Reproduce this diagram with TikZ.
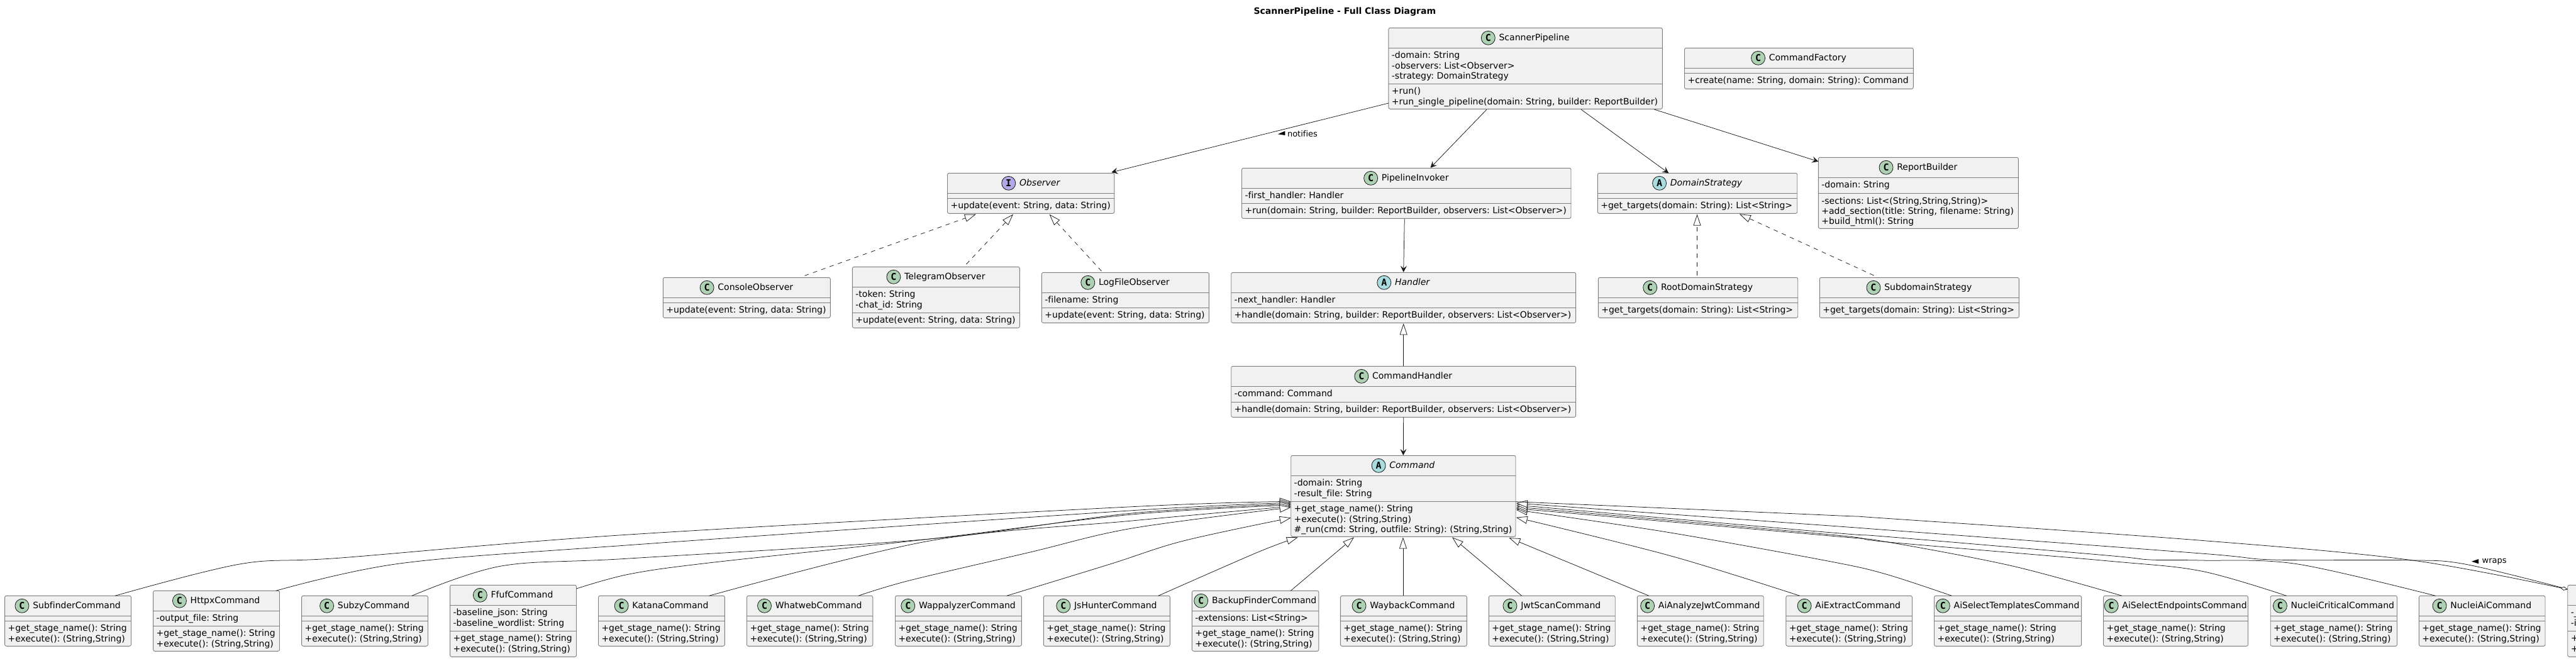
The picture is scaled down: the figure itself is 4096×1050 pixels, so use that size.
\documentclass[tikz,border=0pt]{standalone}
\usepackage{fontspec}
\setmainfont[Ligatures=NoCommon]{DejaVu Sans}
\newfontfamily\cfont{DejaVu Sans Mono}
\usetikzlibrary{arrows.meta,calc}
\definecolor{boxfill}{HTML}{F1F1F1}
\definecolor{boxline}{HTML}{7F7F7F}
\definecolor{ink}{HTML}{181818}
\definecolor{badgeC}{HTML}{ADD1B2}
\definecolor{badgeA}{HTML}{A9DCDF}
\definecolor{badgeI}{HTML}{B4A7E5}
\tikzset{
  classbox/.style={draw=boxline,fill=boxfill,line width=.9pt,rounded corners=2.5pt,inner sep=0pt,outer sep=0pt},
  sepline/.style={draw=boxline,line width=.9pt},
  cname/.style={inner sep=0pt,outer sep=0pt,text=black,font=\fontsize{14}{16}\selectfont\frenchspacing,text height=10.5pt,text depth=3pt},
  badge/.style={circle,draw=ink,line width=.8pt,minimum size=22pt,inner sep=0pt,outer sep=0pt,font=\fontsize{15}{16}\selectfont\cfont\bfseries,text=black},
  memb/.style={inner sep=0pt,outer sep=0pt,anchor=north west,align=left,text=black,font=\fontsize{14}{16.4}\selectfont\frenchspacing},
  lbl/.style={inner sep=0pt,outer sep=0pt,text=black,font=\fontsize{13}{15}\selectfont},
  conn/.style={draw=ink,line width=.75pt},
  extarrow/.style={conn,-{Triangle[length=18pt,width=12pt,fill=white]}},
  navarrow/.style={conn,-{Stealth[length=10pt,width=10pt,inset=4pt,fill=ink]}},
  realarrow/.style={extarrow,dash pattern=on 7pt off 7pt},
  wraparrow/.style={conn,-{Diamond[length=12pt,width=6pt,fill=white]}},
  curve/.style={smooth,tension=.55},
  ltri/.style={fill=black,draw=none}
}
\newcommand{\umlclass}[9]{%
  \pgfmathsetmacro\bw{#3-#2}\pgfmathsetmacro\bh{#7-#4}%
  \node[classbox,minimum width=\bw pt,minimum height=\bh pt,anchor=north west] (#1) at (#2,#4) {};
  \draw[sepline] (#2,#5) -- (#3,#5);
  \draw[sepline] (#2,#6) -- (#3,#6);
  \coordinate (#1H) at (#2,#5);
  \coordinate (#1S) at (#2,#6);
  \node[cname] (#1n) at ($(#1.north)+(14,16)$) {#9};
  \node[badge,fill=badge#8] (#1c) at ($(#1n.west)+(-17.3,0)$) {#8};
}
\newcommand{\fieldsof}[2]{\node[memb] (#1f) at ($(#1H)+(5,5.6)$) {\rule{0pt}{11pt}#2};}
\newcommand{\methodsof}[2]{\node[memb] (#1m) at ($(#1S)+(5,5.6)$) {\rule{0pt}{11pt}#2};}
\newcommand{\plainchild}[4]{%
  \umlclass{#1}{#2}{#3}{947.3}{979.3}{987.3}{1027.3}{C}{#4}
  \methodsof{#1}{+get\_stage\_name(): String\\+execute(): (String,String)}
}
\begin{document}
\begin{tikzpicture}[x=1pt,y=-1pt]
\useasboundingbox (0,0) rectangle (4096,1050);
\fill[white] (0,0) rectangle (4096,1050);
\clip (0,0) rectangle (4096,1050);

\node[inner sep=0pt,text=black,font=\fontsize{14}{16}\selectfont\bfseries] (title) at (2138.3,18.5) {ScannerPipeline - Full Class Diagram};

% boxes
\umlclass{scan}{2207.9}{2643.3}{44.3}{76.3}{133.3}{173.3}{C}{ScannerPipeline}
\fieldsof{scan}{-domain: String\\-observers: List<Observer>\\-strategy: DomainStrategy}
\methodsof{scan}{+run()\\+run\_single\_pipeline(domain: String, builder: ReportBuilder)}

\umlclass{factory}{2678.5}{3042.3}{76.3}{108.3}{116.3}{141.3}{C}{CommandFactory}
\methodsof{factory}{+create(name: String, domain: String): Command}

\umlclass{obs}{1506.5}{1771.8}{275.3}{307.3}{315.3}{339.3}{I}{\itshape Observer}
\methodsof{obs}{+update(event: String, data: String)}

\umlclass{invoker}{1974.5}{2498}{267.3}{299.3}{323.3}{347.3}{C}{PipelineInvoker}
\fieldsof{invoker}{-first\_handler: Handler}
\methodsof{invoker}{+run(domain: String, builder: ReportBuilder, observers: List<Observer>)}

\umlclass{domain}{2540.3}{2857.7}{275.3}{307.3}{315.3}{339.3}{A}{\itshape DomainStrategy}
\methodsof{domain}{+get\_targets(domain: String): List<String>}

\umlclass{report}{2891.3}{3209.3}{250.3}{282.3}{307.5}{363.3}{C}{ReportBuilder}
\fieldsof{report}{-domain: String}
\methodsof{report}{-sections: List<(String,String,String)>\\+add\_section(title: String, filename: String)\\+build\_html(): String}

\umlclass{console}{1054.3}{1320.3}{441.3}{473.3}{481.3}{505.3}{C}{ConsoleObserver}
\methodsof{console}{+update(event: String, data: String)}

\umlclass{telegram}{1355.4}{1621.3}{424.3}{456.3}{497.3}{521.3}{C}{TelegramObserver}
\fieldsof{telegram}{-token: String\\-chat\_id: String}
\methodsof{telegram}{+update(event: String, data: String)}

\umlclass{logfile}{1656.4}{1922.4}{433.3}{465.3}{489.3}{513.3}{C}{LogFileObserver}
\fieldsof{logfile}{-filename: String}
\methodsof{logfile}{+update(event: String, data: String)}

\umlclass{handler}{1957.7}{2505.6}{433.3}{465.3}{489.3}{513.3}{A}{\itshape Handler}
\fieldsof{handler}{-next\_handler: Handler}
\methodsof{handler}{+handle(domain: String, builder: ReportBuilder, observers: List<Observer>)}

\umlclass{cmdh}{1957.7}{2505.6}{582.3}{614.3}{639}{663.3}{C}{CommandHandler}
\fieldsof{cmdh}{-command: Command}
\methodsof{cmdh}{+handle(domain: String, builder: ReportBuilder, observers: List<Observer>)}

\umlclass{rootd}{2541.3}{2858.7}{441.3}{473.3}{481.3}{505.3}{C}{RootDomainStrategy}
\methodsof{rootd}{+get\_targets(domain: String): List<String>}

\umlclass{subd}{2893.3}{3210.3}{441.3}{473.3}{481.3}{505.3}{C}{SubdomainStrategy}
\methodsof{subd}{+get\_targets(domain: String): List<String>}

\umlclass{cmd}{2052.7}{2410}{724.3}{756.3}{797}{853.3}{A}{\itshape Command}
\fieldsof{cmd}{-domain: String\\-result\_file: String}
\methodsof{cmd}{+get\_stage\_name(): String\\+execute(): (String,String)\\\#\_run(cmd: String, outfile: String): (String,String)}

\plainchild{subf}{7.6}{208.5}{SubfinderCommand}
\umlclass{httpx}{243.6}{444.5}{939.3}{971.3}{995.3}{1035.3}{C}{HttpxCommand}
\fieldsof{httpx}{-output\_file: String}
\methodsof{httpx}{+get\_stage\_name(): String\\+execute(): (String,String)}
\plainchild{subzy}{479.6}{680.5}{SubzyCommand}
\umlclass{ffuf}{715.6}{916.5}{930.3}{962.3}{1003.3}{1044.3}{C}{FfufCommand}
\fieldsof{ffuf}{-baseline\_json: String\\-baseline\_wordlist: String}
\methodsof{ffuf}{+get\_stage\_name(): String\\+execute(): (String,String)}
\plainchild{katana}{951.5}{1152.4}{KatanaCommand}
\plainchild{whatweb}{1187.5}{1387.8}{WhatwebCommand}
\plainchild{wappa}{1423.5}{1624.4}{WappalyzerCommand}
\plainchild{jshunter}{1659.4}{1860.3}{JsHunterCommand}
\umlclass{backup}{1895.4}{2096.9}{939.3}{971.3}{995.3}{1035.3}{C}{BackupFinderCommand}
\fieldsof{backup}{-extensions: List<String>}
\methodsof{backup}{+get\_stage\_name(): String\\+execute(): (String,String)}
\plainchild{wayback}{2131.4}{2332.3}{WaybackCommand}
\plainchild{jwtscan}{2367.3}{2568.2}{JwtScanCommand}
\plainchild{aiana}{2603.3}{2804.2}{AiAnalyzeJwtCommand}
\plainchild{aiext}{2839.9}{3040.5}{AiExtractCommand}
\plainchild{aitempl}{3075.5}{3309.6}{AiSelectTemplatesCommand}
\plainchild{aiend}{3344.6}{3574.5}{AiSelectEndpointsCommand}
\plainchild{crit}{3610.2}{3811.5}{NucleiCriticalCommand}
\plainchild{nuai}{3846.4}{4047}{NucleiAiCommand}

% the class cut off by the right edge of the page
\node[classbox,minimum width=300pt,minimum height=114pt,anchor=north west] (edgebox) at (4082.7,930.3) {};
\draw[sepline] (4082.7,962.3) -- (4400,962.3);
\draw[sepline] (4082.7,1003.3) -- (4400,1003.3);
\coordinate (edgeboxH) at (4082.7,962.3);
\coordinate (edgeboxS) at (4082.7,1003.3);
\fieldsof{edgebox}{-\_\\-i}
\methodsof{edgebox}{+\\+}

% top connectors
\draw[navarrow] ($(scan.south west)+(0,-9.3)$) -- ($(obs.north east)+(-4.5,-1.3)$);
\draw[navarrow] ($(scan.south west)+(156.1,.7)$) -- ($(invoker.north west)+(300,-.6)$);
\draw[navarrow] ($(scan.south west)+(306.1,.7)$) -- ($(domain.north west)+(113,0)$);
\draw[navarrow] ($(scan.south west)+(422.4,.7)$) -- ($(report.north west)+(0,6.5)$);
\draw[navarrow] ($(invoker.south)+(-3,.5)$) -- ($(handler.north)+(0,-.5)$);
\draw[extarrow] (cmdh.north) -- ($(handler.south)+(0,1)$);
\draw[navarrow] (cmdh.south) -- ($(cmd.north west)+(178.6,-.3)$);

\draw[realarrow] ($(console.north west)+(225.2,-3)$) -- ($(obs.south west)+(45.3,1.4)$);
\draw[realarrow] ($(telegram.north west)+(181.1,-4.3)$) -- ($(obs.south west)+(104.5,1.4)$);
\draw[realarrow] ($(logfile.north west)+(95,-2.3)$) -- ($(obs.south west)+(162,1.4)$);
\draw[realarrow] ($(rootd.north west)+(157.2,-3)$) -- ($(domain.south west)+(158.2,1.4)$);
\draw[realarrow] ($(subd.north west)+(86.3,-3.3)$) -- ($(domain.south west)+(225.5,1)$);

% Command: inheritance on the left
\draw[extarrow] plot[curve] coordinates {($(subf.north west)+(175.4,0)$) (382.6,896.7) (542,887) (1000,850) (1800,805.7) ($(cmd.north west)+(0,73.2)$)};
\draw[extarrow] plot[curve] coordinates {($(httpx.north west)+(195.2,0)$) (637.8,895.7) (1000,866.7) (1800,811.7) ($(cmd.north west)+(0,75.2)$)};
\draw[extarrow] plot[curve] coordinates {($(subzy.north west)+(175.4,0)$) (797,900) (1000,888) (1478,857) (1800,816) ($(cmd.north west)+(0,77)$)};
\draw[extarrow] plot[curve] coordinates {($(ffuf.north east)+(0,5.7)$) (1000,913) (1127,895) (1478,857) (1800,818) ($(cmd.north west)+(0,78.7)$)};
\draw[extarrow] plot[curve] coordinates {($(katana.north west)+(176,0)$) (1478,860) (1800,828) ($(cmd.north west)+(0,80.7)$)};
\draw[extarrow] plot[curve] coordinates {($(whatweb.north west)+(177.3,0)$) (1446,923) (1638,878) (1800,840) ($(cmd.north west)+(0,82.5)$)};
\draw[extarrow] plot[curve] coordinates {($(wappa.north west)+(177.3,0)$) (1765,897) (1881.7,860) ($(cmd.north west)+(0,99)$)};
\draw[extarrow] plot[curve] coordinates {($(jshunter.north west)+(182.4,0)$) (2000,878) ($(cmd.south west)+(11.1,1)$)};
% Command: inheritance below
\draw[extarrow] ($(backup.north west)+(156.9,0)$) -- ($(cmd.south west)+(100.3,1)$);
\draw[extarrow] ($(wayback.north west)+(99.5,0)$) -- ($(cmd.south west)+(178.2,1)$);
\draw[extarrow] ($(jwtscan.north west)+(52.3,0)$) -- ($(cmd.south west)+(256.3,1)$);
\draw[extarrow] ($(aiana.north west)+(18.5,0)$) -- ($(cmd.south west)+(346.6,1.7)$);
\draw[extarrow] plot[curve] coordinates {($(aiext.north west)+(21.8,0)$) (2657,884) ($(cmd.north east)+(.7,98.4)$)};
% Command: inheritance on the right
\draw[extarrow] plot[curve] coordinates {($(aitempl.north west)+(27.9,0)$) (3000,913.3) (2910,892.7) (2650,846) ($(cmd.north east)+(.7,86.4)$)};
\draw[extarrow] plot[curve] coordinates {($(aiend.north west)+(29.4,0)$) (3200,900) (3000,861.7) (2910,852) ($(cmd.north east)+(.7,84.2)$)};
\draw[extarrow] plot[curve] coordinates {($(crit.north west)+(25.5,0)$) (3500,908) (3349.5,891.7) (3000,861.7) (2910,850) ($(cmd.north east)+(.7,81.7)$)};
\draw[extarrow] plot[curve] coordinates {($(nuai.north west)+(26.1,0)$) (3652,896.7) (3500,891) (3419,890) (3349,883) (3000,853.3) (2910,846.7) ($(cmd.north east)+(.7,78.7)$)};
\draw[extarrow] plot[curve] coordinates {($(edgebox.north west)+(0,6.5)$) (3918,896.7) (3823,890.7) (3614,890) (3500,880) (3000,842.7) (2910,836) ($(cmd.north east)+(.7,75.7)$)};
\draw[wraparrow] plot[curve] coordinates {($(cmd.north east)+(0,73.4)$) (2910,819.3) (3000,824.3) (3500,859.3) (3834.5,890.7) ($(edgebox.north west)+(0,6.8)$)};

% association labels
\node[lbl,anchor=west] (notifies) at (2047,212.3) {notifies};
\path[ltri] (2031.9,213.3) -- (2043.4,208.3) -- (2043.4,215) -- cycle;
\node[lbl,anchor=west] (wraps) at (3946.6,892.7) {wraps};
\path[ltri] (3930,892.7) -- (3941,889) -- (3941,896.3) -- cycle;
\end{tikzpicture}
\end{document}
